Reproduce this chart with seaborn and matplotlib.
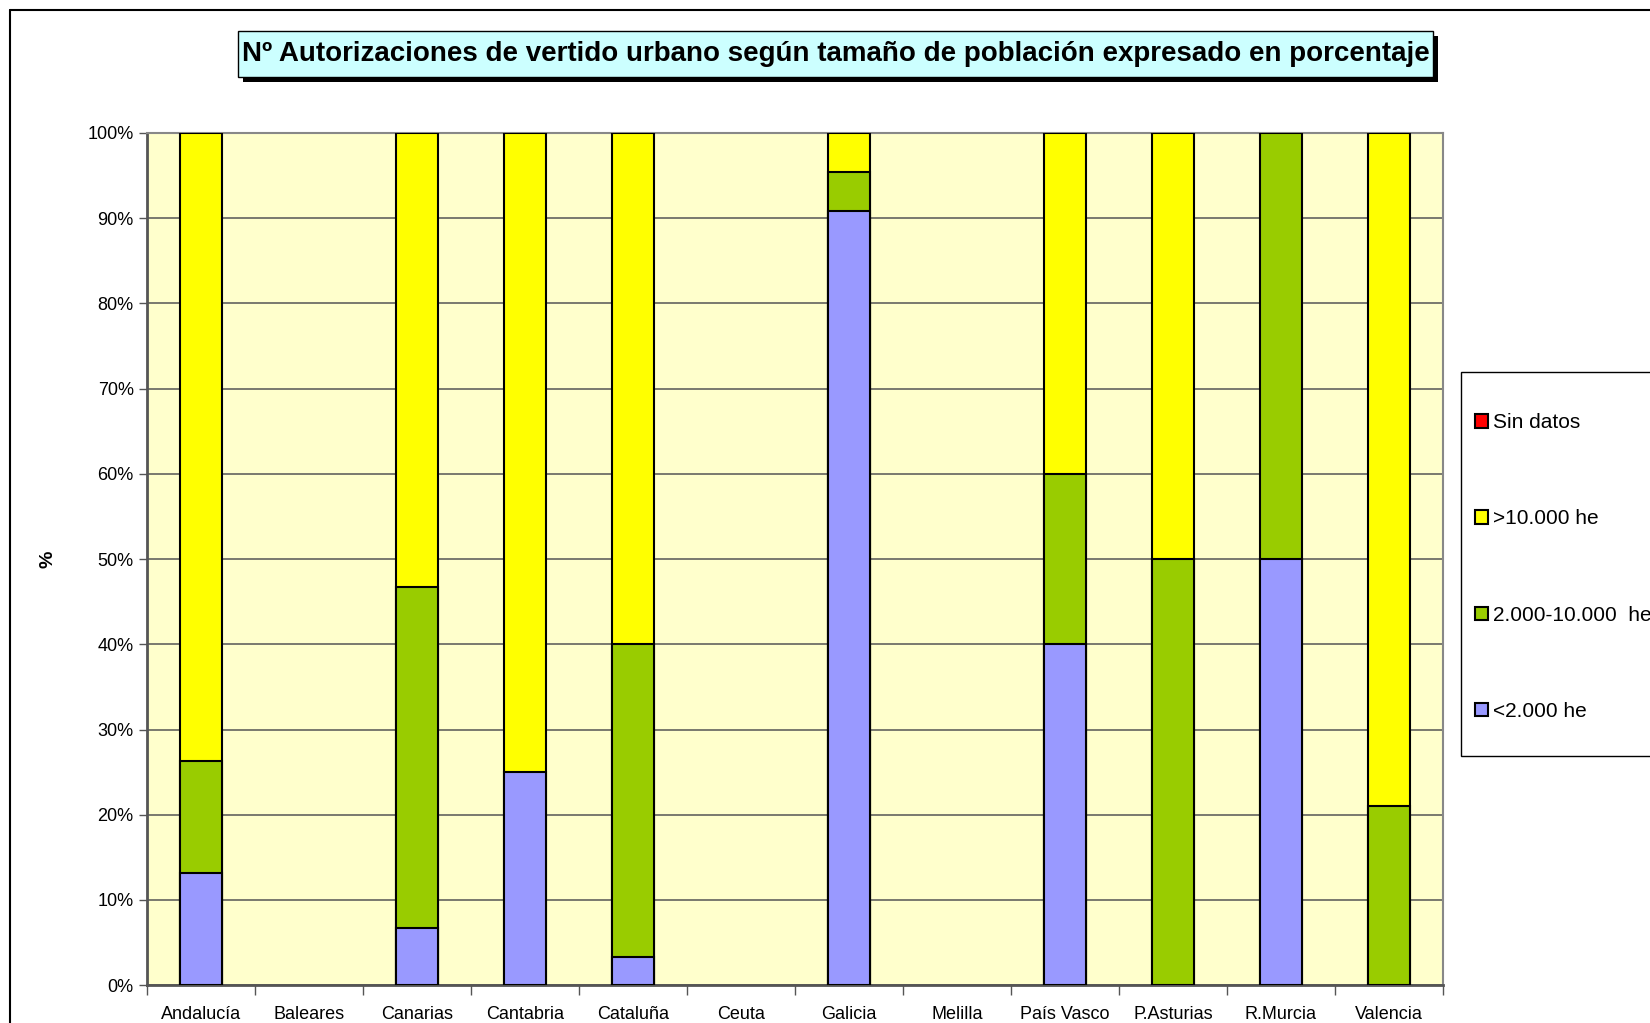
import numpy as np
import pandas as pd
import matplotlib.pyplot as plt
import seaborn as sns
from matplotlib.patches import Patch, Rectangle
from matplotlib.ticker import PercentFormatter, FixedLocator

# data (percent of authorisations per population size)
regions = ["Andalucía", "Baleares", "Canarias", "Cantabria", "Cataluña", "Ceuta",
           "Galicia", "Melilla", "País Vasco", "P.Asturias", "R.Murcia", "Valencia"]
menos_2000 = [13.2, 0, 6.67, 25.0, 3.33, 0, 90.9, 0, 40.0, 0, 50.0, 0]
de_2000_10000 = [13.1, 0, 40.0, 0, 36.67, 0, 4.55, 0, 20.0, 50.0, 50.0, 21.0]
mas_10000 = [73.7, 0, 53.33, 75.0, 60.0, 0, 4.55, 0, 40.0, 50.0, 0, 79.0]
sin_datos = [0, 0, 0, 0, 0, 0, 0, 0, 0, 0, 0, 0]

labels = ["Sin datos", ">10.000 he", "2.000-10.000  he", "<2.000 he"]
colors = ["#FF0000", "#FFFF00", "#99CC00", "#9999FF"]

df = pd.DataFrame({"region": regions, "a": menos_2000, "b": de_2000_10000,
                   "c": mas_10000, "d": sin_datos})
df["cum_a"] = df["a"]
df["cum_b"] = df["cum_a"] + df["b"]
df["cum_c"] = df["cum_b"] + df["c"]
df["cum_d"] = df["cum_c"] + df["d"]

sns.set_style("white")
plt.rcParams['font.family'] = ['Liberation Sans', 'DejaVu Sans']
plt.rcParams['text.color'] = 'black'
plt.rcParams['xtick.color'] = 'black'
plt.rcParams['ytick.color'] = 'black'
plt.rcParams['axes.labelcolor'] = 'black'

fig = plt.figure(figsize=(16.5, 10.23), dpi=100)
ax = fig.add_axes([0.089, 0.037, 0.7855, 0.833])
ax.set_facecolor("#FFFFCC")

# stacked bars: draw tallest cumulative first, skip empty segments
for col, color in zip(["cum_d", "cum_c", "cum_b", "cum_a"], colors):
    sub = df[["region", col]].copy()
    sub.loc[df[col.replace("cum_", "")] == 0, col] = np.nan
    sub = sub.dropna()
    if sub.empty:
        continue
    sns.barplot(data=sub, x="region", y=col, order=regions, color=color, width=0.39,
                edgecolor="black", linewidth=1.5, saturation=1, ax=ax, zorder=3)

ax.set_ylim(0, 100)
ax.set_xlim(-0.5, len(regions) - 0.5)
ax.set_yticks(range(0, 101, 10))
ax.yaxis.set_major_formatter(PercentFormatter(decimals=0))
ax.yaxis.grid(True, color="#555555", linewidth=1.1, zorder=0)
ax.set_axisbelow(True)
ax.xaxis.set_minor_locator(FixedLocator([i + 0.5 for i in range(-1, len(regions))]))
ax.tick_params(axis="x", which="major", length=0, labelsize=13, pad=15)
ax.tick_params(axis="x", which="minor", length=7, width=1, color="#555555", direction="out", bottom=True)
ax.tick_params(axis="y", length=6, width=1, color="#555555", direction="out", left=True, labelsize=13)
ax.set_xlabel("")
ax.set_ylabel("%", fontsize=14, fontweight="bold")
ax.yaxis.set_label_coords(-0.070, 0.5)
for side in ["top", "right"]:
    ax.spines[side].set_color("#888888")
    ax.spines[side].set_linewidth(1.5)
for side in ["left", "bottom"]:
    ax.spines[side].set_color("#555555")
    ax.spines[side].set_linewidth(2)

# title box with shadow
W, H = 1650, 1023
bx0, bx1, by0, by1 = 238, 1433, 31, 77
fig.patches.append(Rectangle(((bx0 + 5) / W, 1 - (by1 + 5) / H), (bx1 - bx0) / W, (by1 - by0) / H,
                             transform=fig.transFigure, facecolor="black", edgecolor="none"))
fig.patches.append(Rectangle((bx0 / W, 1 - by1 / H), (bx1 - bx0) / W, (by1 - by0) / H,
                             transform=fig.transFigure, facecolor="#CCFFFF", edgecolor="black",
                             linewidth=1))
fig.text((bx0 + bx1) / 2 / W, 1 - (by0 + by1) / 2 / H,
         "Nº Autorizaciones de vertido urbano según tamaño de población expresado en porcentaje",
         ha="center", va="center", fontsize=20, fontweight="bold")

# outer chart frame
fig.add_artist(plt.Line2D([0.006, 1.0], [0.9905, 0.9905], color="black", linewidth=1.5))
fig.add_artist(plt.Line2D([0.006, 0.006], [0.0, 0.9905], color="black", linewidth=1.5))

# legend frame + entries
fig.patches.append(Rectangle((1461 / W, 1 - 755.5 / H), 0.2, (755.5 - 371.5) / H,
                             transform=fig.transFigure, facecolor="white", edgecolor="black",
                             linewidth=1))
handles = [Patch(facecolor=c, edgecolor="black", linewidth=1.5) for c in colors]
fig.legend(handles, labels, loc="center left", bbox_to_anchor=(1475 / W, 1 - 567 / H),
           fontsize=15, frameon=False, labelspacing=3.7, borderpad=0,
           handlelength=0.6, handleheight=0.6, handletextpad=0.25, borderaxespad=0)

fig.savefig("out.png", dpi=100)
